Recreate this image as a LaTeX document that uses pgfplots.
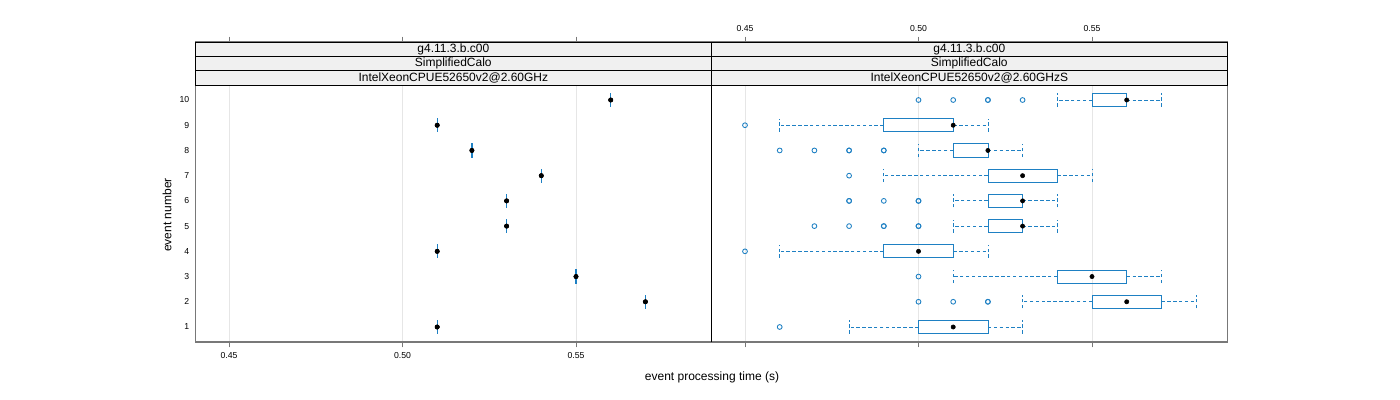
\documentclass[border=0pt]{standalone}
\usepackage{fontspec}
\setmainfont{Liberation Sans}
\usepackage{pgfplots}
\pgfplotsset{compat=1.18}
\usepgfplotslibrary{statistics}
\definecolor{bwblue}{RGB}{30,128,195}
\definecolor{stripgray}{RGB}{240,240,240}
\definecolor{framegray}{RGB}{120,120,120}
\definecolor{gridgray}{RGB}{230,230,230}

\tikzset{strips/.style={black, fill=stripgray, line width=0.6pt}}

\pgfplotsset{
  panel/.style={
    width=387pt, height=225pt, scale only axis,
    anchor=south west,
    xmin=0.4403, xmax=0.5890, ymin=0.405, ymax=12.30,
    xtick={0.45,0.50,0.55},
    xticklabels={0.45,0.50,0.55},
    tick align=outside,
    major tick length=4pt,
    xtick style={framegray, line width=0.6pt},
    ytick style={draw=none},
    axis line style={framegray, line width=0.8pt},
    xmajorgrids,
    major grid style={gridgray, line width=0.7pt},
    clip=false,
    tick label style={font=\fontsize{6.5}{7}\selectfont},
    yticklabel style={xshift=3pt},
    /pgf/number format/assume math mode=true,
  },
  boxstyle/.style={
    bwblue, line width=0.6pt, solid,
    boxplot/draw direction=x,
    boxplot/box extend=0.52,
    boxplot/whisker extend=0.52,
    boxplot/every whisker/.style={dash pattern=on 2.6pt off 1.8pt},
    boxplot/draw/median/.code={},
  },
}

\newcommand{\drawstrips}[1]{%
  \draw[strips] (axis cs:0.4403,11.732) rectangle (axis cs:0.5890,12.30);
  \draw[strips] (axis cs:0.4403,11.163) rectangle (axis cs:0.5890,11.732);
  \draw[strips] (axis cs:0.4403,10.595) rectangle (axis cs:0.5890,11.163);
  \node[font=\fontsize{9}{10}\selectfont] at (axis cs:0.51465,12.016) {g4.11.3.b.c00};
  \node[font=\fontsize{9}{10}\selectfont] at (axis cs:0.51465,11.447) {SimplifiedCalo};
  \node[font=\fontsize{9}{10}\selectfont] at (axis cs:0.51465,10.879) {#1};
}

\begin{document}
\begin{tikzpicture}
\useasboundingbox (0,0) rectangle (1050pt,300pt);

% ---------------- left panel ----------------
\begin{axis}[panel, at={(146.5pt,43.5pt)},
  ytick={1,2,3,4,5,6,7,8,9,10},
  xtick pos=both, xticklabel pos=left,
]
\addplot[only marks, mark=*, mark size=1.6pt, black,
  error bars/.cd, y dir=both, y fixed=0.28,
  error bar style={bwblue, line width=0.9pt}, error mark=none]
  coordinates {
  (0.51,1) (0.57,2) (0.55,3) (0.51,4) (0.53,5)
  (0.53,6) (0.54,7) (0.52,8) (0.51,9) (0.56,10)
  };
\addplot[only marks, mark=*, mark size=1.6pt, black]
  coordinates {
  (0.51,1) (0.57,2) (0.55,3) (0.51,4) (0.53,5)
  (0.53,6) (0.54,7) (0.52,8) (0.51,9) (0.56,10)
  };
\drawstrips{IntelXeonCPUE52650v2@2.60GHz}
\end{axis}

% ---------------- right panel ----------------
\begin{axis}[panel, at={(533.5pt,43.5pt)},
  ytick=\empty,
  xtick pos=both, xticklabel pos=right,
]
\addplot[boxstyle, boxplot prepared={draw position=10, lower whisker=0.54, lower quartile=0.55, median=0.56, upper quartile=0.56, upper whisker=0.57}] coordinates {};
\addplot[boxstyle, boxplot prepared={draw position=9, lower whisker=0.46, lower quartile=0.49, median=0.51, upper quartile=0.51, upper whisker=0.52}] coordinates {};
\addplot[boxstyle, boxplot prepared={draw position=8, lower whisker=0.50, lower quartile=0.51, median=0.52, upper quartile=0.52, upper whisker=0.53}] coordinates {};
\addplot[boxstyle, boxplot prepared={draw position=7, lower whisker=0.49, lower quartile=0.52, median=0.53, upper quartile=0.54, upper whisker=0.55}] coordinates {};
\addplot[boxstyle, boxplot prepared={draw position=6, lower whisker=0.51, lower quartile=0.52, median=0.53, upper quartile=0.53, upper whisker=0.54}] coordinates {};
\addplot[boxstyle, boxplot prepared={draw position=5, lower whisker=0.51, lower quartile=0.52, median=0.53, upper quartile=0.53, upper whisker=0.54}] coordinates {};
\addplot[boxstyle, boxplot prepared={draw position=4, lower whisker=0.46, lower quartile=0.49, median=0.50, upper quartile=0.51, upper whisker=0.52}] coordinates {};
\addplot[boxstyle, boxplot prepared={draw position=3, lower whisker=0.51, lower quartile=0.54, median=0.55, upper quartile=0.56, upper whisker=0.57}] coordinates {};
\addplot[boxstyle, boxplot prepared={draw position=2, lower whisker=0.53, lower quartile=0.55, median=0.56, upper quartile=0.57, upper whisker=0.58}] coordinates {};
\addplot[boxstyle, boxplot prepared={draw position=1, lower whisker=0.48, lower quartile=0.50, median=0.51, upper quartile=0.52, upper whisker=0.53}] coordinates {};
% outliers
\addplot[only marks, mark=o, mark size=1.8pt, bwblue, line width=0.65pt]
  coordinates {
  (0.50,10) (0.51,10) (0.52,10) (0.52,10) (0.53,10)
  (0.45,9)
  (0.46,8) (0.47,8) (0.48,8) (0.48,8) (0.49,8) (0.49,8)
  (0.48,7)
  (0.48,6) (0.48,6) (0.49,6) (0.50,6) (0.50,6)
  (0.47,5) (0.48,5) (0.49,5) (0.49,5) (0.50,5) (0.50,5)
  (0.45,4)
  (0.50,3)
  (0.50,2) (0.51,2) (0.52,2) (0.52,2)
  (0.46,1)
  };
% medians
\addplot[only marks, mark=*, mark size=1.6pt, black]
  coordinates {
  (0.56,10) (0.51,9) (0.52,8) (0.53,7) (0.53,6)
  (0.53,5) (0.50,4) (0.55,3) (0.56,2) (0.51,1)
  };
\draw[black, line width=0.8pt] (axis cs:0.4403,0.405) -- (axis cs:0.4403,10.595);
\drawstrips{IntelXeonCPUE52650v2@2.60GHzS}
\end{axis}

\node[font=\fontsize{9}{10}\selectfont] at (534pt,17.25pt) {event processing time (s)};
\node[font=\fontsize{9}{10}\selectfont, rotate=90] at (125.25pt,138.75pt) {event number};
\end{tikzpicture}
\end{document}
